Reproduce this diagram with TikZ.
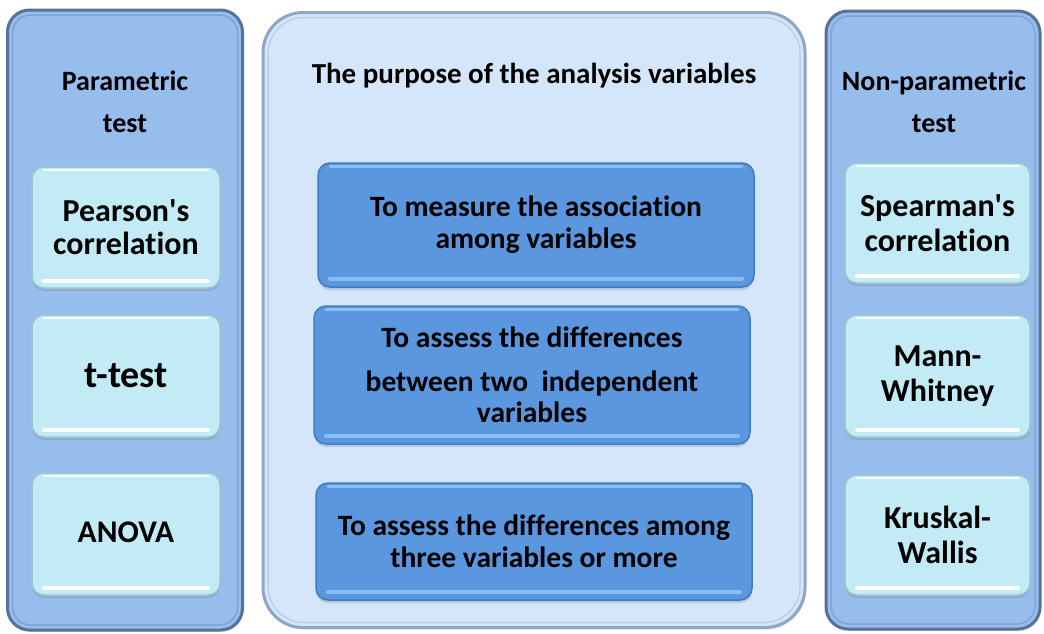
\documentclass[tikz,border=0pt]{standalone}
\usepackage{fontspec}
\setmainfont{Carlito}[Ligatures={NoCommon}]
\usetikzlibrary{shadows}

\definecolor{sidefill}{HTML}{97BDED}
\definecolor{sideedge}{HTML}{56729A}
\definecolor{sideinner}{HTML}{7FA3D3}
\definecolor{midfill}{HTML}{D5E6FB}
\definecolor{midedge}{HTML}{8FA6C4}
\definecolor{midinner}{HTML}{BCD0EA}
\definecolor{testfill}{HTML}{C3EBF5}
\definecolor{testedge}{HTML}{9DC5CF}
\definecolor{aimfill}{HTML}{5B97DF}
\definecolor{aimedge}{HTML}{3F7BC6}
\definecolor{aimlight}{HTML}{88BFF3}

\newcommand{\apos}{\textquotesingle}

\tikzset{
  panel/.style={rounded corners=22pt, fill=sidefill, draw=sideedge, line width=3pt,
    drop shadow={opacity=0.25, shadow xshift=1pt, shadow yshift=-2pt},
    path picture={\draw[sideinner, line width=1.5pt, rounded corners=18pt]
      ([xshift=5pt,yshift=-5pt]path picture bounding box.north west) rectangle
      ([xshift=-5pt,yshift=5pt]path picture bounding box.south east);}},
  midpanel/.style={rounded corners=40pt, fill=midfill, draw=midedge, line width=3pt,
    drop shadow={opacity=0.25, shadow xshift=1pt, shadow yshift=-2pt},
    path picture={\draw[midinner, line width=1.5pt, rounded corners=36pt]
      ([xshift=5pt,yshift=-5pt]path picture bounding box.north west) rectangle
      ([xshift=-5pt,yshift=5pt]path picture bounding box.south east);}},
  testbox/.style={rounded corners=12pt, fill=testfill, draw=testedge, line width=1.5pt,
    align=center, text=black,
    drop shadow={opacity=0.3, shadow xshift=0pt, shadow yshift=-3pt},
    path picture={
      \draw[white, line width=4pt, line cap=round]
        ([xshift=12pt,yshift=7pt]path picture bounding box.south west) --
        ([xshift=-12pt,yshift=7pt]path picture bounding box.south east);
      \draw[white, line width=2.5pt, line cap=round, opacity=0.9]
        ([xshift=12pt,yshift=-3pt]path picture bounding box.north west) --
        ([xshift=-12pt,yshift=-3pt]path picture bounding box.north east);}},
  aimbox/.style={rounded corners=12pt, fill=aimfill, draw=aimedge, line width=1.5pt,
    align=center, text=black,
    drop shadow={opacity=0.3, shadow xshift=0pt, shadow yshift=-3pt},
    path picture={
      \draw[aimlight, line width=4pt, line cap=round]
        ([xshift=12pt,yshift=8pt]path picture bounding box.south west) --
        ([xshift=-12pt,yshift=8pt]path picture bounding box.south east);
      \draw[aimlight, line width=3pt, line cap=round]
        ([xshift=12pt,yshift=-3pt]path picture bounding box.north west) --
        ([xshift=-12pt,yshift=-3pt]path picture bounding box.north east);}},
  heading/.style={align=center, text=black}
}

\begin{document}
\begin{tikzpicture}[x=1pt, y=-1pt]
  \useasboundingbox (0,0) rectangle (1044,633);

  % three columns
  \node[panel, minimum width=235pt, minimum height=620pt] (left) at (125,320) {};
  \node[midpanel, minimum width=542pt, minimum height=615pt] (mid) at (534,320) {};
  \node[panel, minimum width=214pt, minimum height=618pt] (right) at (933,320) {};

  % column headings
  \node[heading, font=\fontsize{28}{42}\bfseries\selectfont] (lhead) at (125,102) {Parametric\\test};
  \node[heading, font=\fontsize{28}{42}\bfseries\selectfont] (rhead) at (934,102) {Non-parametric\\test};
  \node[heading, font=\fontsize{29}{32}\bfseries\selectfont] (mhead) at (534,76) {The purpose of the analysis variables};

  % parametric tests
  \node[testbox, minimum width=188pt, minimum height=121pt, font=\fontsize{32}{33}\bfseries\selectfont]
    (pearson) at (126,227.5) {Pearson\apos s\\correlation};
  \node[testbox, minimum width=188pt, minimum height=122pt, font=\fontsize{38}{40}\bfseries\selectfont]
    (ttest) at (126,376) {t-test};
  \node[testbox, minimum width=188pt, minimum height=122pt, font=\fontsize{31.5}{32}\bfseries\selectfont]
    (anova) at (126,534) {\raisebox{3pt}{ANOVA}};

  % purposes
  \node[aimbox, minimum width=436pt, minimum height=124pt, font=\fontsize{29.5}{32}\bfseries\selectfont]
    (assoc) at (536,225) {To measure the association\\among variables};
  \node[aimbox, minimum width=436pt, minimum height=138pt, font=\fontsize{29.5}{31}\bfseries\selectfont]
    (two) at (532,375) {To assess the differences\\[13pt]between two\ \ independent\\variables};
  \node[aimbox, minimum width=436pt, minimum height=117pt, font=\fontsize{29.5}{32}\bfseries\selectfont]
    (three) at (534,541.5) {To assess the differences among\\three variables or more};

  % non-parametric tests
  \node[testbox, minimum width=185pt, minimum height=120pt, font=\fontsize{32}{35}\bfseries\selectfont]
    (spearman) at (937.5,223) {Spearman\apos s\\correlation};
  \node[testbox, minimum width=185pt, minimum height=122pt, font=\fontsize{32}{35}\bfseries\selectfont]
    (mann) at (937.5,376) {Mann-\\Whitney};
  \node[testbox, minimum width=185pt, minimum height=120pt, font=\fontsize{32}{35}\bfseries\selectfont]
    (kruskal) at (937.5,535) {Kruskal-\\Wallis};
\end{tikzpicture}
\end{document}
